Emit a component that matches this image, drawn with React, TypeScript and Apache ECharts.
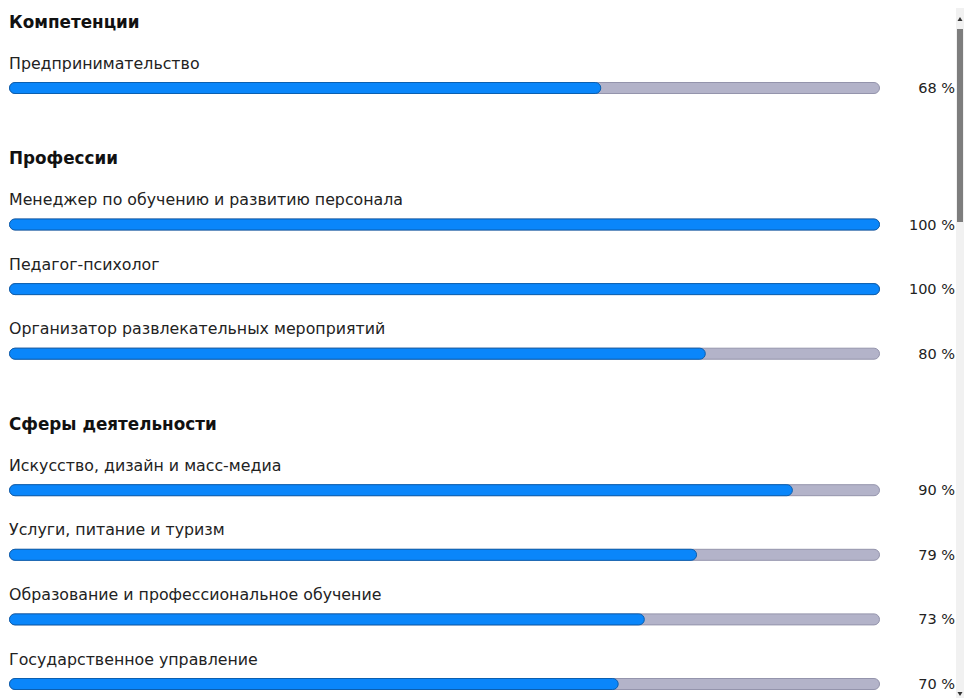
import React, { useEffect, useRef } from "react";
import * as echarts from "echarts";

const sectionTitles = ["Компетенции", "Профессии", "Сферы деятельности"];

const competencyNames = ["Предпринимательство"];
const competencyValues = [68];

const professionNames = [
  "Менеджер по обучению и развитию персонала",
  "Педагог-психолог",
  "Организатор развлекательных мероприятий",
];
const professionValues = [100, 100, 80];

const sphereNames = [
  "Искусство, дизайн и масс-медиа",
  "Услуги, питание и туризм",
  "Образование и профессиональное обучение",
  "Государственное управление",
];
const sphereValues = [90, 79, 73, 70];

const maxValue = 100;

const sections = [
  { title: sectionTitles[0], names: competencyNames, values: competencyValues },
  { title: sectionTitles[1], names: professionNames, values: professionValues },
  { title: sectionTitles[2], names: sphereNames, values: sphereValues },
];

const FONT = "DejaVu Sans";
const FIRST_CENTER = 88;
const ROW_H = 64.6;
const SECTION_GAP = 136.5;
const LEFT = 9;
const RIGHT_EDGE = 880;
const W = 964;
const H = 698;
const CANVAS_H = 740;

export default function App() {
  const ref = useRef<HTMLDivElement>(null);

  useEffect(() => {
    if (!ref.current) return;
    const chart = echarts.init(ref.current, undefined, { renderer: "svg" });

    const grids: any[] = [];
    const xAxes: any[] = [];
    const yAxes: any[] = [];
    const series: any[] = [];
    const titles: any[] = [];

    let center = FIRST_CENTER;
    sections.forEach((sec, si) => {
      if (si > 0) center += SECTION_GAP;
      const top = center - ROW_H / 2;
      const height = ROW_H * sec.names.length;
      grids.push({ left: LEFT, right: W - RIGHT_EDGE, top, height });
      titles.push({
        text: sec.title,
        left: LEFT,
        top: center - 66 - 9,
        padding: 0,
        textStyle: { fontFamily: FONT, fontSize: 16.8, fontWeight: "bold", color: "#111" },
      });
      xAxes.push({
        gridIndex: si,
        type: "value",
        min: 0,
        max: maxValue,
        show: false,
      });
      yAxes.push({
        gridIndex: si,
        type: "category",
        inverse: true,
        data: sec.names,
        position: "right",
        axisLine: { show: false },
        axisTick: { show: false },
        axisLabel: {
          align: "right",
          margin: 75,
          fontFamily: FONT,
          fontSize: 14.5,
          color: "#222",
          formatter: (_v: string, i: number) => sec.values[i] + " %",
        },
      });
      series.push({
        type: "bar",
        xAxisIndex: si,
        yAxisIndex: si,
        data: sec.names.map(() => maxValue),
        barWidth: 12,
        barGap: "-100%",
        silent: true,
        itemStyle: {
          color: "#b3b3c9",
          borderColor: "#9494ac",
          borderWidth: 1,
          borderRadius: 6,
        },
        label: {
          show: true,
          position: [0, -19],
          align: "left",
          verticalAlign: "middle",
          fontFamily: FONT,
          fontSize: 15.8,
          color: "#222",
          formatter: (p: any) => sec.names[p.dataIndex],
        },
        z: 2,
      });
      series.push({
        type: "bar",
        xAxisIndex: si,
        yAxisIndex: si,
        data: sec.values,
        barWidth: 12,
        barGap: "-100%",
        silent: true,
        itemStyle: {
          color: "#0a86fa",
          borderColor: "#0b5fb0",
          borderWidth: 1,
          borderRadius: 6,
        },
        z: 3,
      });
      center += ROW_H * (sec.names.length - 1);
    });

    chart.setOption({
      animation: false,
      backgroundColor: "#ffffff",
      title: titles,
      grid: grids,
      xAxis: xAxes,
      yAxis: yAxes,
      series,
      graphic: [
        { type: "rect", shape: { x: 956, y: 8, width: 8, height: H - 8 }, style: { fill: "#f1f1f1" } },
        { type: "rect", shape: { x: 957, y: 29, width: 6, height: 193 }, style: { fill: "#7d7d7d" } },
        { type: "polygon", shape: { points: [[960, 17], [957.5, 21], [962.5, 21]] }, style: { fill: "#333" } },
        { type: "polygon", shape: { points: [[960, 696], [957.5, 692], [962.5, 692]] }, style: { fill: "#333" } },
      ],
    });

    return () => chart.dispose();
  }, []);

  return (
    <div
      ref={ref}
      style={{ position: "fixed", left: 0, top: 0, width: W, height: CANVAS_H }}
    />
  );
}
